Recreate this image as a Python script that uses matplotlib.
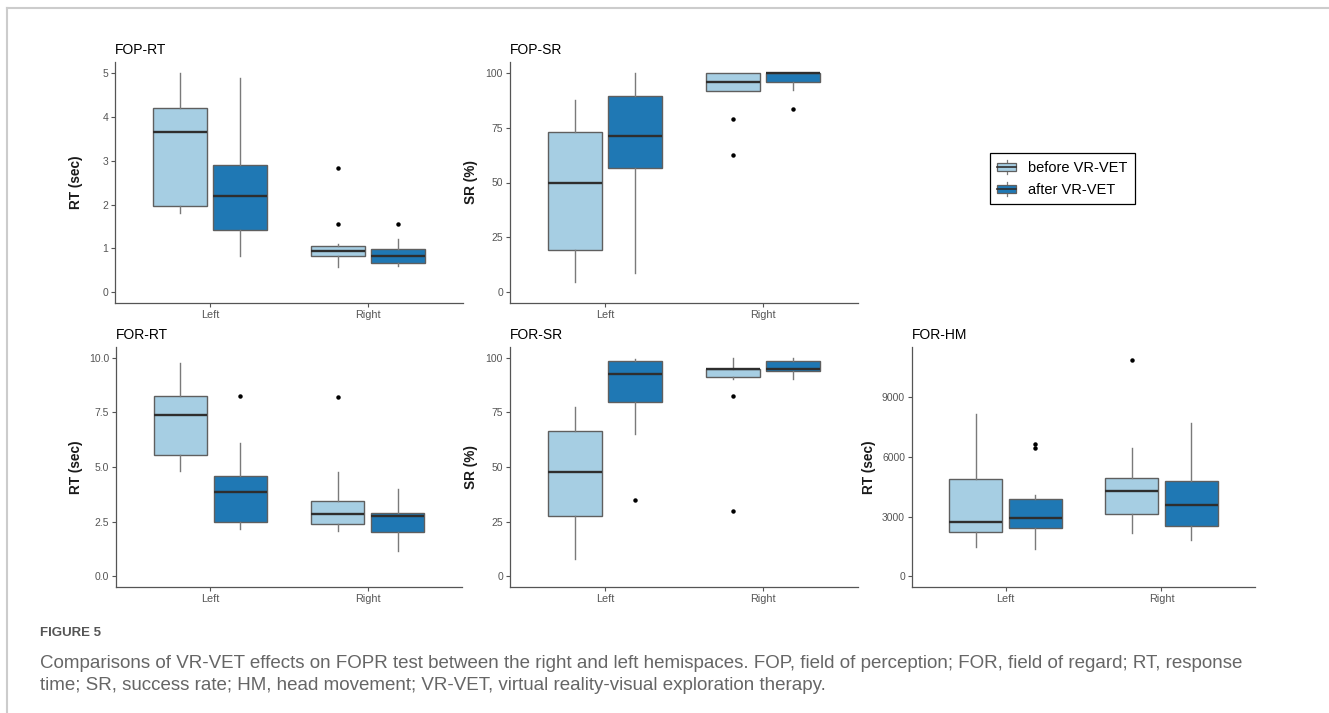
import matplotlib
matplotlib.use('Agg')
from matplotlib import pyplot as plt
from matplotlib.lines import Line2D
from matplotlib.patches import Rectangle
from matplotlib.legend_handler import HandlerBase


categories = ['Left', 'Right']

# each row: whisker low, Q1, median, Q3, whisker high (one row per hemispace)
fop_rt_before = [[1.82, 1.98, 3.66, 4.22, 5.00], [0.57, 0.82, 0.94, 1.06, 1.10]]
fop_rt_after = [[0.84, 1.42, 2.20, 2.91, 4.89], [0.60, 0.68, 0.83, 0.98, 1.21]]
fop_rt_before_out = [[], [2.83, 1.56]]
fop_rt_after_out = [[], [1.56]]

fop_sr_before = [[4.4, 19.0, 50.0, 73.2, 87.5], [91.9, 91.9, 95.9, 100.0, 100.0]]
fop_sr_after = [[8.5, 56.5, 71.0, 89.6, 100.0], [92.0, 96.0, 100.0, 100.0, 100.0]]
fop_sr_before_out = [[], [79.2, 62.6]]
fop_sr_after_out = [[], [83.4]]

for_rt_before = [[4.81, 5.55, 7.38, 8.26, 9.75], [2.06, 2.38, 2.83, 3.43, 4.76]]
for_rt_after = [[2.16, 2.48, 3.84, 4.59, 6.10], [1.16, 2.03, 2.74, 2.90, 3.98]]
for_rt_before_out = [[], [8.18]]
for_rt_after_out = [[8.24], []]

for_sr_before = [[7.8, 27.6, 47.5, 66.3, 77.4], [90.2, 91.4, 94.7, 95.0, 100.0]]
for_sr_after = [[65.2, 80.0, 92.7, 98.8, 99.5], [90.2, 93.9, 95.1, 98.8, 100.0]]
for_sr_before_out = [[], [82.6, 30.0]]
for_sr_after_out = [[35.1], []]

for_hm_before = [[1460, 2215, 2719, 4900, 8140], [2182, 3139, 4296, 4918, 6430]]
for_hm_after = [[1343, 2400, 2937, 3877, 4063], [1813, 2517, 3575, 4800, 7704]]
for_hm_before_out = [[], [10910]]
for_hm_after_out = [[6631, 6430], []]

group_labels = ['before VR-VET', 'after VR-VET']
group_colors = ['#a6cee3', '#1f78b4']

W, H = 1329, 713
fig = plt.figure(figsize=(W / 100, H / 100), dpi=100)
plt.rcParams['font.family'] = ['Liberation Sans', 'DejaVu Sans']

edge_col = '#5f5f5f'
axis_col = '#555555'


def px_axes(l, t, r, b):
    return fig.add_axes([l / W, 1 - b / H, (r - l) / W, (b - t) / H])


def make_stats(rows, outs):
    stats = []
    for r, o in zip(rows, outs):
        stats.append({'whislo': r[0], 'q1': r[1], 'med': r[2], 'q3': r[3],
                      'whishi': r[4], 'fliers': o})
    return stats


def draw_panel(ax, title, ylabel, before, after, before_out, after_out,
               ylim, yticks, yticklabels, label_x):
    for i, (rows, outs) in enumerate([(before, before_out), (after, after_out)]):
        off = -0.19 if i == 0 else 0.19
        pos = [k + 1 + off for k in range(len(categories))]
        ax.bxp(make_stats(rows, outs), positions=pos, widths=0.34,
               patch_artist=True, showcaps=False,
               boxprops=dict(facecolor=group_colors[i], edgecolor=edge_col, linewidth=1.0),
               medianprops=dict(color='#2e2e2e', linewidth=1.7),
               whiskerprops=dict(color='#7a7a7a', linewidth=1.0),
               flierprops=dict(marker='o', markersize=2.2, markerfacecolor='black',
                               markeredgecolor='black', linestyle='none'))
    ax.set_xlim(0.4, 2.6)
    ax.set_ylim(*ylim)
    ax.set_xticks([1, 2])
    ax.set_xticklabels(categories)
    ax.set_yticks(yticks)
    ax.set_yticklabels(yticklabels)
    for s in ['top', 'right']:
        ax.spines[s].set_visible(False)
    for s in ['left', 'bottom']:
        ax.spines[s].set_color(axis_col)
        ax.spines[s].set_linewidth(0.9)
    ax.tick_params(axis='both', length=3, width=0.8, color=axis_col,
                   labelcolor='#555555', pad=2)
    ax.tick_params(axis='x', labelsize=7.8)
    ax.tick_params(axis='y', labelsize=7.5)
    ax.set_title(title, loc='left', fontsize=10, pad=6, color='black')
    ax.set_ylabel(ylabel, fontsize=9.8, fontweight='bold', color='#1a1a1a')
    ax.yaxis.set_label_coords(label_x, 0.5)


ax1 = px_axes(115, 62, 463, 303)
draw_panel(ax1, 'FOP-RT', 'RT (sec)', fop_rt_before, fop_rt_after,
           fop_rt_before_out, fop_rt_after_out, (-0.245, 5.26),
           [0, 1, 2, 3, 4, 5], ['0', '1', '2', '3', '4', '5'], -32 / 348)

ax2 = px_axes(510, 62, 858, 303)
draw_panel(ax2, 'FOP-SR', 'SR (%)', fop_sr_before, fop_sr_after,
           fop_sr_before_out, fop_sr_after_out, (-5, 105),
           [0, 25, 50, 75, 100], ['0', '25', '50', '75', '100'], -32 / 348)

ax4 = px_axes(116, 347, 462, 587)
draw_panel(ax4, 'FOR-RT', 'RT (sec)', for_rt_before, for_rt_after,
           for_rt_before_out, for_rt_after_out, (-0.49, 10.49),
           [0, 2.5, 5, 7.5, 10], ['0.0', '2.5', '5.0', '7.5', '10.0'], -33 / 346)

ax5 = px_axes(510, 347, 858, 587)
draw_panel(ax5, 'FOR-SR', 'SR (%)', for_sr_before, for_sr_after,
           for_sr_before_out, for_sr_after_out, (-5, 105),
           [0, 25, 50, 75, 100], ['0', '25', '50', '75', '100'], -32 / 348)

ax6 = px_axes(912, 347, 1255, 587)
draw_panel(ax6, 'FOR-HM', 'RT (sec)', for_hm_before, for_hm_after,
           for_hm_before_out, for_hm_after_out, (-550, 11540),
           [0, 3000, 6000, 9000], ['0', '3000', '6000', '9000'], -36 / 343)


class BoxKeyHandler(HandlerBase):
    def create_artists(self, legend, orig_handle, xdescent, ydescent,
                       width, height, fontsize, trans):
        fc = orig_handle.get_facecolor()
        cx = width / 2 - xdescent
        bx = Rectangle((-xdescent, -ydescent + height * 0.2), width, height * 0.6,
                       facecolor=fc, edgecolor=edge_col, linewidth=0.9, transform=trans)
        med = Line2D([-xdescent, width - xdescent],
                     [-ydescent + height * 0.5] * 2, color='#2e2e2e', lw=1.2, transform=trans)
        w1 = Line2D([cx, cx], [-ydescent, -ydescent + height * 0.2],
                    color='#7a7a7a', lw=0.9, transform=trans)
        w2 = Line2D([cx, cx], [-ydescent + height * 0.8, -ydescent + height],
                    color='#7a7a7a', lw=0.9, transform=trans)
        return [w1, w2, bx, med]


handles = [Rectangle((0, 0), 1, 1, facecolor=c) for c in group_colors]
leg = fig.legend(handles, group_labels, loc='upper left',
                 bbox_to_anchor=(990 / W, 1 - 153 / H), borderaxespad=0,
                 fancybox=False, edgecolor='black', framealpha=1,
                 fontsize=10.5, handlelength=1.3, handleheight=1.1,
                 handletextpad=0.8, labelspacing=0.45, borderpad=0.5,
                 handler_map={Rectangle: BoxKeyHandler()})
leg.get_frame().set_linewidth(0.9)

# page frame lines
fig.add_artist(Line2D([7 / W, 1], [1 - 8 / H, 1 - 8 / H], transform=fig.transFigure,
                      color='#cccccc', lw=1.5))
fig.add_artist(Line2D([7 / W, 7 / W], [0, 1 - 8 / H], transform=fig.transFigure,
                      color='#cccccc', lw=1.5))

fig.text(40 / W, 1 - 633 / H, 'FIGURE 5', fontsize=9.5, fontweight='bold',
         color='#555555', va='center', ha='left')
fig.text(40 / W, 1 - 663 / H,
         'Comparisons of VR-VET effects on FOPR test between the right and left hemispaces. '
         'FOP, field of perception; FOR, field of regard; RT, response',
         fontsize=13.5, color='#666666', va='center', ha='left')
fig.text(40 / W, 1 - 685 / H,
         'time; SR, success rate; HM, head movement; VR-VET, virtual reality-visual exploration therapy.',
         fontsize=13.5, color='#666666', va='center', ha='left')

plt.savefig('out.png', dpi=100)
